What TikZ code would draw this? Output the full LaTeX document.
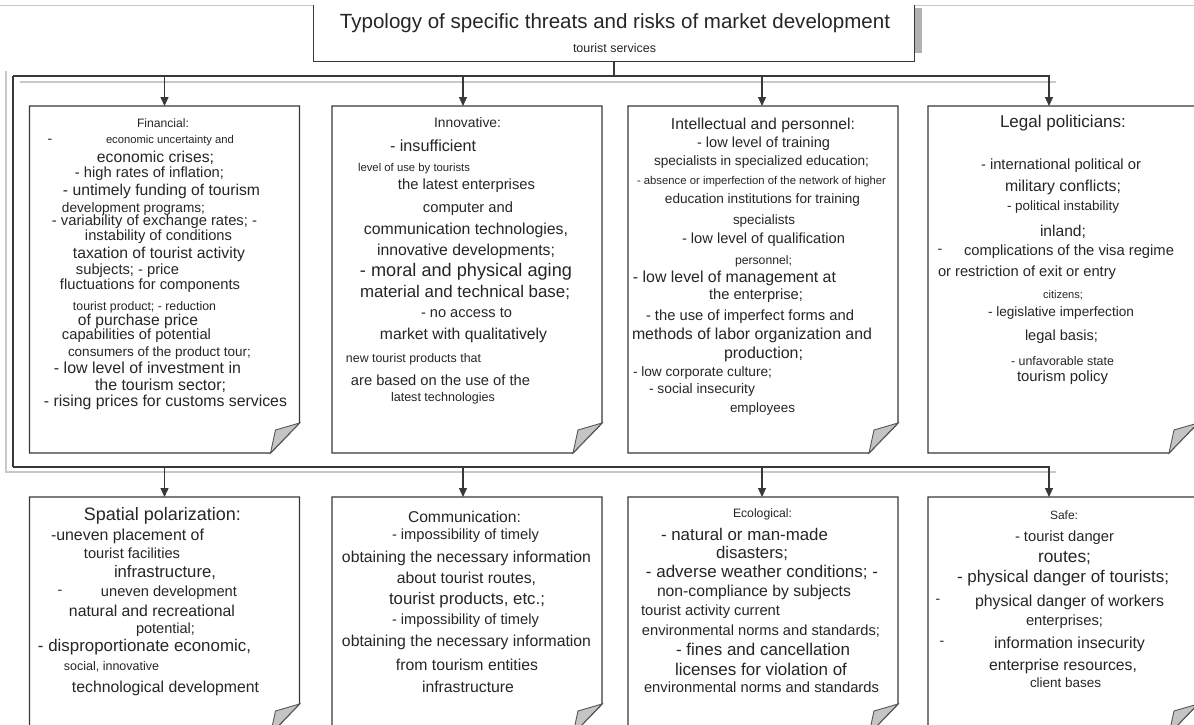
\documentclass[tikz,border=0pt]{standalone}
\usepackage{fontspec}
\setmainfont{Liberation Sans}
\usepackage{graphicx}
\usetikzlibrary{arrows.meta}

\definecolor{ink}{HTML}{262626}
\definecolor{edge}{HTML}{383838}
\definecolor{foldgray}{HTML}{C4C4C4}
\definecolor{shadegray}{HTML}{C8C8C8}

\tikzset{
  sheet/.style={minimum width=270pt, inner sep=0pt, outer sep=0pt},
  edgeline/.style={draw=edge, line width=1.3pt},
  fold/.style={draw=edge!85, line width=0.9pt, fill=foldgray},
  txt/.style={inner sep=0pt, text=ink},
  hyph/.style={txt, font=\fontsize{14}{14}\selectfont},
  arr/.style={edgeline, -{Triangle[length=9pt,width=8pt]}},
}

% one line of text stretched to the width it has in the scheme
\newcommand{\fitline}[2]{\resizebox{#1pt}{!}{#2}}
% sheet outline with the folded corner
\newcommand{\sheetframe}[1]{%
  \draw[edgeline, fill=white] (#1.north west) -- (#1.north east) -- ([yshift=30pt]#1.south east)
    -- ([xshift=-29pt]#1.south east) -- (#1.south west) -- cycle;
  \filldraw[fold] ([yshift=30pt]#1.south east) .. controls ([xshift=-12pt,yshift=27pt]#1.south east)
    .. ([xshift=-24pt,yshift=23pt]#1.south east) -- ([xshift=-29pt]#1.south east) -- cycle;}

\begin{document}
\begin{tikzpicture}[x=1pt, y=-1pt]
    \useasboundingbox (0,0) rectangle (1194,725);
    \clip (0,0) rectangle (1194,725);

    % Head of the scheme
    \draw[shadegray] (0,5) -- (1194,5);
    \node (title) at (614,33) [minimum width=600pt, minimum height=56pt, inner sep=0pt] {};
    \fill[gray!60] ([yshift=-3pt]title.north east) rectangle ([xshift=8pt,yshift=8pt]title.south east);
    \draw[edgeline, fill=white] (title.north west) |- (title.south east) -- (title.north east);
    \node[txt] (ttl) at (615,23) {\fitline{550}{Typology of specific threats and risks of market development}};
    \node[txt] (ttl-sub) at (614.5,48) {\fitline{83}{tourist services}};

    % Frame joining both rows
    \coordinate (bar1) at (13,76);
    \coordinate (bar2) at (13,467);
    \draw[shadegray, line width=1.5pt] (6,71) -- (6,472) -- (1056,472);
    \draw[shadegray, line width=1.5pt] (20,82) -- (1056,82);

    % Sheets, upper row
    \node[sheet, minimum height=347pt] (fin) at (164.5,279.5) {};
    \node[sheet, minimum height=347pt] (inn) at (467,279.5) {};
    \node[sheet, minimum height=347pt] (int) at (763,279.5) {};
    \node[sheet, minimum height=347pt] (leg) at (1063,279.5) {};
    % Sheets, lower row
    \node[sheet, minimum height=237pt] (spa) at (164.5,615.5) {};
    \node[sheet, minimum height=237pt] (com) at (467,615.5) {};
    \node[sheet, minimum height=237pt] (eco) at (763,615.5) {};
    \node[sheet, minimum height=237pt] (saf) at (1063,615.5) {};
    \foreach \n in {fin,inn,int,leg,spa,com,eco,saf}
        \sheetframe{\n};

    % Connectors
    \draw[edgeline] (title.south) -- (title.south |- bar1);
    \draw[edgeline] (bar1) -- (bar2);
    \draw[arr] (bar1) -| ([xshift=-14pt]leg.north);
    \draw[arr] (bar2) -| ([xshift=-14pt]saf.north);
    \foreach \n/\dx in {fin/0,inn/-4,int/-1}
        \draw[arr] ([xshift=\dx pt]\n.north |- bar1) -- ([xshift=\dx pt]\n.north);
    \foreach \n/\dx in {spa/0,com/-4,eco/-1}
        \draw[arr] ([xshift=\dx pt]\n.north |- bar2) -- ([xshift=\dx pt]\n.north);

    % Financial
    \node[hyph] (fin-d) at (50,141) {-};
    \foreach \x/\y/\w/\txt [count=\i] in {
        163/123/52/{Financial:},
        170/141/128/{economic uncertainty and},
        155.5/158/117/{economic crises;},
        149.5/174/149/{- high rates of inflation;},
        161.5/191/197/{- untimely funding of tourism},
        133.5/209/143/{development programs;},
        154.5/222/205/{- variability of exchange rates; -},
        158.5/237/147/{instability of conditions},
        159/254/172/{taxation of tourist activity},
        127.5/271/103/{subjects; - price},
        150/286/180/{fluctuations for components},
        144.5/307/143/{tourist product; - reduction},
        138/321/120/{of purchase price},
        136.5/336/149/{capabilities of potential},
        159.5/353/183/{consumers of the product tour;},
        147.5/368/187/{- low level of investment in},
        160.5/386/131/{the tourism sector;},
        165.5/402/243/{- rising prices for customs services}}
        \node[txt] (fin-\i) at (\x,\y) {\fitline{\w}{\txt}};

    % Innovative
    \foreach \x/\y/\w/\txt [count=\i] in {
        467.5/123/67/{Innovative:},
        433/146/86/{- insufficient},
        414/169/112/{level of use by tourists},
        466.5/186/137/{the latest enterprises},
        468/209/90/{computer and},
        466/230/204/{communication technologies,},
        466/251/178/{innovative developments;},
        466/272/212/{- moral and physical aging},
        465/292/210/{material and technical base;},
        466.5/313/91/{- no access to},
        463.5/335/167/{market with qualitatively},
        413.5/359/135/{new tourist products that},
        440.5/380/179/{are based on the use of the},
        443/398/104/{latest technologies}}
        \node[txt] (inn-\i) at (\x,\y) {\fitline{\w}{\txt}};

    % Intellectual and personnel
    \foreach \x/\y/\w/\txt [count=\i] in {
        763/125/184/{Intellectual and personnel:},
        763.5/144/133/{- low level of training},
        761.5/162/215/{specialists in specialized education;},
        761.5/182/249/{- absence or imperfection of the network of higher},
        762.5/200/195/{education institutions for training},
        764/221/62/{specialists},
        763.5/240/163/{- low level of qualification},
        763.5/261/57/{personnel;},
        734.5/278/203/{- low level of management at},
        756/296/94/{the enterprise;},
        750/317/208/{- the use of imperfect forms and},
        752/335/240/{methods of labor organization and},
        763.5/354/79/{production;},
        702.5/373/139/{- low corporate culture;},
        702/390/106/{- social insecurity},
        762.5/409/65/{employees}}
        \node[txt] (int-\i) at (\x,\y) {\fitline{\w}{\txt}};

    % Legal politicians
    \node[hyph] (leg-d) at (940,251) {-};
    \foreach \x/\y/\w/\txt [count=\i] in {
        1063/123/126/{Legal politicians:},
        1061/166/160/{- international political or},
        1063/187/116/{military conflicts;},
        1063/207/112/{- political instability},
        1063/232/46/{inland;},
        1069/252/210/{complications of the visa regime},
        1027/273/178/{or restriction of exit or entry},
        1063/295/40/{citizens;},
        1061/313/146/{- legislative imperfection},
        1061.5/337/73/{legal basis;},
        1062.5/361/103/{- unfavorable state},
        1062.5/378/91/{tourism policy}}
        \node[txt] (leg-\i) at (\x,\y) {\fitline{\w}{\txt}};

    % Spatial polarization
    \node[hyph] (spa-d) at (60,592) {-};
    \foreach \x/\y/\w/\txt [count=\i] in {
        162.5/516/157/{Spatial polarization:},
        127.5/536/153/{-uneven placement of},
        132/553/96/{tourist facilities},
        165/573/102/{infrastructure,},
        169/593/136/{uneven development},
        152/611/166/{natural and recreational},
        165.5/630/59/{potential;},
        144.5/647/213/{- disproportionate economic,},
        111.5/667/95/{social, innovative},
        165.5/688/187/{technological development}}
        \node[txt] (spa-\i) at (\x,\y) {\fitline{\w}{\txt}};

    % Communication
    \foreach \x/\y/\w/\txt [count=\i] in {
        464.5/517/113/{Communication:},
        465.5/536/147/{- impossibility of timely},
        466.5/558/249/{obtaining the necessary information},
        466.5/579/139/{about tourist routes,},
        467/600/156/{tourist products, etc.;},
        465.5/621/147/{- impossibility of timely},
        466.5/642/249/{obtaining the necessary information},
        467/665/142/{from tourism entities},
        468/687/92/{infrastructure}}
        \node[txt] (com-\i) at (\x,\y) {\fitline{\w}{\txt}};

    % Ecological
    \foreach \x/\y/\w/\txt [count=\i] in {
        762.5/514/59/{Ecological:},
        744.5/534/167/{- natural or man-made},
        752/553/72/{disasters;},
        762/572/232/{- adverse weather conditions; -},
        754/592/194/{non-compliance by subjects},
        710.5/612/139/{tourist activity current},
        761/631/238/{environmental norms and standards;},
        763/649/174/{- fines and cancellation},
        761/669/172/{licenses for violation of},
        761.5/687/235/{environmental norms and standards}}
        \node[txt] (eco-\i) at (\x,\y) {\fitline{\w}{\txt}};

    % Safe
    \node[hyph] (saf-d1) at (938,601) {-};
    \node[hyph] (saf-d2) at (942,643) {-};
    \foreach \x/\y/\w/\txt [count=\i] in {
        1064/515/28/{Safe:},
        1064.5/538/99/{- tourist danger},
        1064.5/558/53/{routes;},
        1063/578/212/{- physical danger of tourists;},
        1069.5/602/189/{physical danger of workers},
        1064.5/622/77/{enterprises;},
        1069.5/644/151/{information insecurity},
        1063/666/148/{enterprise resources,},
        1065.5/683/71/{client bases}}
        \node[txt] (saf-\i) at (\x,\y) {\fitline{\w}{\txt}};
\end{tikzpicture}
\end{document}
